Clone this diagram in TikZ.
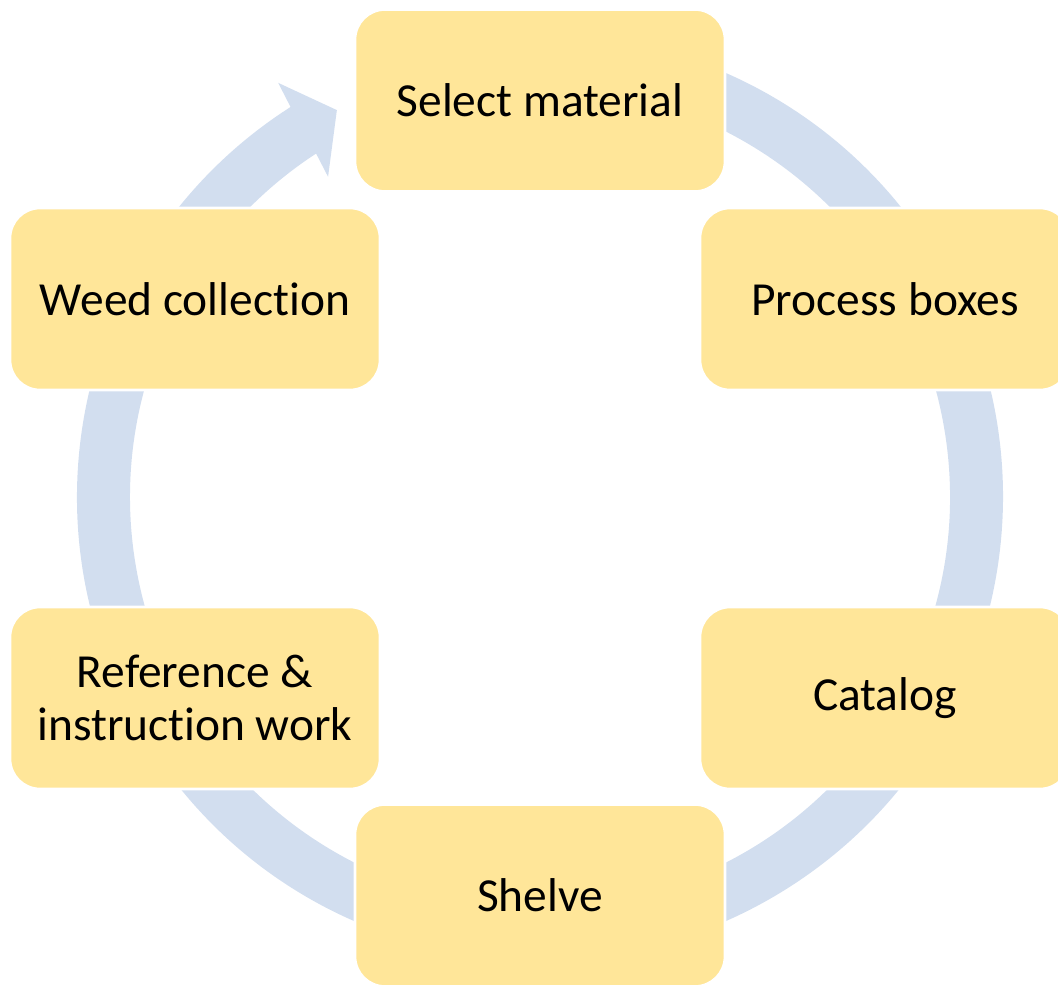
\documentclass[tikz,border=0pt]{standalone}
\usepackage{fontspec}
\setmainfont{Carlito}[Ligatures=NoCommon]
\usepackage{xcolor}
\usepackage{tikz}

\definecolor{stepyellow}{RGB}{255,230,153}
\definecolor{ringblue}{RGB}{210,222,239}

\tikzset{
	stepbox/.style = {draw = white, line width = 1.5pt, fill = stepyellow, rounded corners = 0.6cm,
		minimum width = 7.4cm, minimum height = 3.64cm, align = center, inner sep = 0pt,
		font = \fontsize{27}{30}\selectfont}
}

\begin{document}
\begin{tikzpicture}[x = 0.02cm, y = 0.02cm]
					\def\ro{463};
					\def\ri{410};

					\useasboundingbox (-540,-488) rectangle (518,497);

					\begin{scope}
						\clip (-540,-488) rectangle (518,497);

						% ring with its one head
						\fill [ringblue] (122.6:\ro) arc [start angle = 122.6, end angle = 460, radius = \ro]
							-- (460:\ri) arc [start angle = 460, end angle = 123.1, radius = \ri]
							-- (123.5:384) -- (117.7:437) -- (122.3:490) -- cycle;

						\node [stepbox] (select)    at (0,396.5)  {Select material};
						\node [stepbox] (process)   at (345,198)  {Process boxes};
						\node [stepbox] (catalog)   at (345,-201) {Catalog};
						\node [stepbox] (shelve)    at (0,-398.5) {Shelve};
						\node [stepbox] (reference) at (-345,-201) {Reference \&\\instruction work};
						\node [stepbox] (weed)      at (-345,198) {Weed collection};
					\end{scope}
				\end{tikzpicture}
\end{document}
